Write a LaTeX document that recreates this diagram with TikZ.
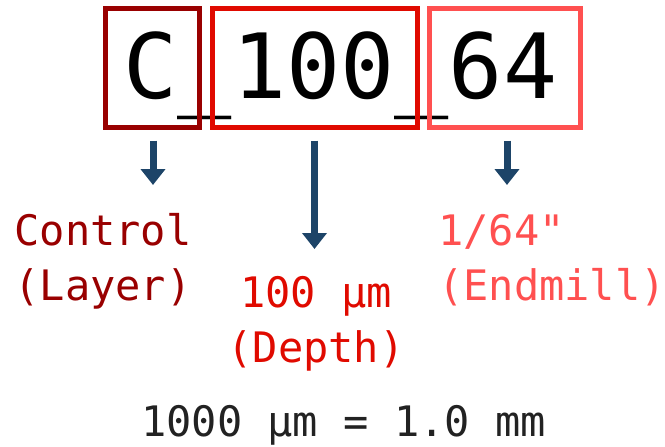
\documentclass[tikz,border=0pt]{standalone}
\usepackage{fontspec}
\setmonofont{DejaVu Sans Mono}
\usetikzlibrary{arrows.meta,calc}
\definecolor{cdark}{HTML}{990000}
\definecolor{cmid}{HTML}{E00A00}
\definecolor{clight}{HTML}{FF5050}
\definecolor{carrow}{HTML}{1D4468}
\definecolor{ctext}{HTML}{222222}
\tikzset{
  partbox/.style={draw, line width=5pt, inner sep=0pt, minimum height=118.5pt},
  bigtext/.style={font=\ttfamily\fontsize{90}{90}\selectfont, text=black, inner sep=0pt, anchor=base},
  lbl/.style={font=\ttfamily\fontsize{42}{55}\selectfont, inner sep=0pt, anchor=base},
  arr/.style={carrow, line width=7pt, -{Triangle[width=24pt,length=16pt]}},
}
\begin{document}
\begin{tikzpicture}[x=1pt,y=-1pt]
\useasboundingbox (0,0) rectangle (665,447);
\node[bigtext] (code) at (340.5,98) {C\_100\_64};
\node[partbox, cdark, minimum width=94pt] (bC) at (152.5,67.75) {};
\node[partbox, cmid, minimum width=205pt] (b100) at (315,67.75) {};
\node[partbox, clight, minimum width=151pt] (b64) at (505,67.75) {};
\node[lbl, text=cdark, align=center] (lC) at (103,300) {Control\\(Layer)};
\node[lbl, text=cmid, align=center] (l100) at (316,362) {100 µm\\(Depth)};
\node[lbl, text=clight, align=left, anchor=base west] (l64) at (438,300) {1/64"\\(Endmill)};
\node[lbl, text=ctext] (note) at (343.5,436) {1000 µm = 1.0 mm};
\coordinate (tC) at (153,185);
\coordinate (t100) at (314.5,249);
\coordinate (t64) at (507,185);
\draw[arr] ($(bC.south -| tC)+(0,11)$) -- (tC);
\draw[arr] ($(b100.south -| t100)+(0,11)$) -- (t100);
\draw[arr] ($(b64.south -| t64)+(0,11)$) -- (t64);
\end{tikzpicture}
\end{document}
